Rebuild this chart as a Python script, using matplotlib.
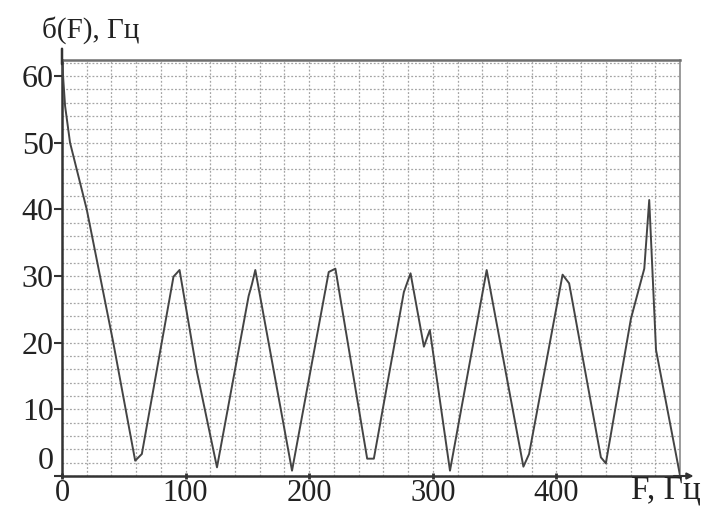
import numpy as np
import matplotlib.pyplot as plt

plt.rcParams['font.family'] = ['Liberation Serif', 'DejaVu Serif']

# spectrum readout, F in Hz
freq = [0, 2.5, 6.5, 20, 41.5, 59.2, 64.6, 90.2, 95.1, 109.2, 125.4,
        151, 153.7, 156.4, 186.1, 215.8, 221.2, 246.9, 252.3, 276.6, 282,
        292.8, 297.6, 313.9, 343.6, 373.3, 377.9, 405, 410.3, 436, 440,
        460.3, 471.1, 475.1, 480.6, 500]
sigma = [62.3, 55.5, 50, 40, 20, 2.3, 3.3, 29.9, 30.9, 15.6, 1.3,
         27, 28.8, 30.9, 0.8, 30.6, 31.1, 2.6, 2.6, 27.6, 30.4,
         19.4, 21.9, 0.8, 30.9, 1.4, 3.3, 30.2, 28.9, 2.8, 1.9,
         23.6, 31.1, 41.4, 18.9, 0.1]

xticks = [0, 100, 200, 300, 400]
yticks = [0, 10, 20, 30, 40, 50, 60]

fig = plt.figure(figsize=(7.03, 5.08), dpi=100)
ax = fig.add_axes([62 / 703, 32 / 508, 618 / 703, 416 / 508])

ax.plot(freq, sigma, color='#444444', lw=1.4, zorder=3)

ax.set_xlim(0, 500)
ax.set_ylim(0, 62.4)

ax.set_xticks(xticks)
ax.set_xticks(np.arange(0, 501, 20), minor=True)
ax.set_yticks(yticks)
ax.set_yticks(np.arange(0, 62.1, 2), minor=True)
ax.grid(which='both', color='#a5a5a5', lw=0.9, ls=(0, (1.5, 1.5)), zorder=1)

ax.tick_params(axis='both', which='minor', length=0)
ax.tick_params(axis='y', which='major', direction='out', length=6, width=1.5,
               color='#333333', labelsize=23, pad=0, labelcolor='#222222')
ax.tick_params(axis='x', which='major', direction='inout', length=5, width=2,
               color='#333333', labelsize=22, pad=0, labelcolor='#222222')
ax.get_yticklabels()[0].set_va('bottom')

for side in ['left', 'bottom']:
    ax.spines[side].set_linewidth(1.8)
    ax.spines[side].set_color('#333333')
ax.spines['top'].set_linewidth(1.8)
ax.spines['top'].set_color('#6f6f6f')
ax.spines['right'].set_linewidth(1.2)
ax.spines['right'].set_color('#8a8a8a')

# axis arrows
ax.annotate('', xy=(1.022, 0), xytext=(0.99, 0), xycoords='axes fraction',
            arrowprops=dict(arrowstyle='-|>', color='#333333', lw=1.5,
                            mutation_scale=9, shrinkA=0, shrinkB=0))
ax.annotate('', xy=(0, 1.027), xytext=(0, 0.99), xycoords='axes fraction',
            arrowprops=dict(arrowstyle='-', color='#333333', lw=1.8,
                            shrinkA=0, shrinkB=0))

fig.text(42 / 703, 1 - 30 / 508, 'б(F), Гц', fontsize=21, color='#222222',
         ha='left', va='center')
fig.text(701 / 703, 1 - 490 / 508, 'F, Гц', fontsize=24, color='#222222',
         ha='right', va='center')

fig.savefig('out.png', dpi=100, facecolor='white')
